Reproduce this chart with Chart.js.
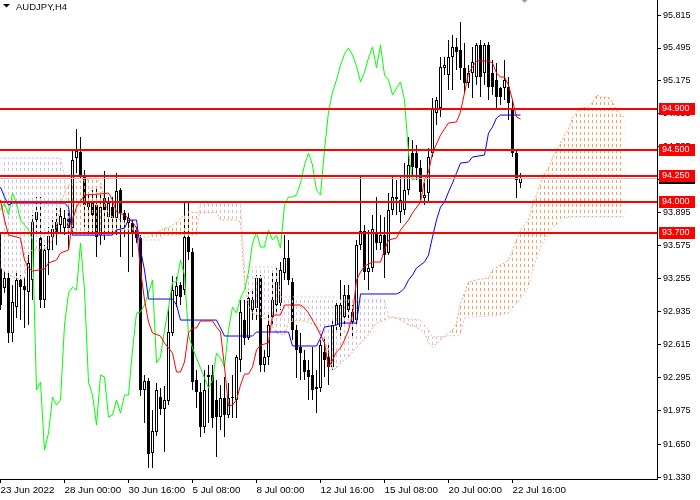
<!DOCTYPE html>
<html>
<head>
<meta charset="utf-8">
<script src="https://cdn.jsdelivr.net/npm/chart.js@4.4.1/dist/chart.umd.min.js"></script>
<style>
html,body{margin:0;padding:0;background:#fff;}
#wrap{width:700px;height:500px;}
</style>
</head>
<body>
<div id="wrap"><canvas id="chart" width="700" height="500"></canvas></div>
<script>
// AUDJPY H4 candles (bar 0 = left edge)
const openP = [93.359,93.165,93.262,92.728,92.980,93.243,93.184,93.126,93.243,93.825,
93.650,93.049,93.534,93.660,93.806,93.777,93.747,93.844,93.747,94.427,
94.485,94.262,93.951,93.990,93.971,93.679,94.039,93.854,93.951,93.844,
94.116,93.893,93.796,93.796,93.728,93.650,92.175,92.262,91.563,91.767,
92.106,91.990,92.068,92.728,93.087,93.194,93.145,93.660,93.514,92.272,
92.155,91.815,92.301,92.320,92.078,91.912,92.097,91.932,92.097,92.078,
92.466,92.854,92.680,92.951,92.971,93.262,92.417,92.495,92.883,93.000,
93.019,93.311,93.456,93.223,92.757,92.592,92.466,92.369,92.320,92.204,
92.194,92.544,92.495,92.398,92.806,92.786,92.883,93.097,92.835,92.854,
93.582,93.718,93.320,93.359,93.699,93.602,93.679,93.505,93.922,94.029,
93.903,93.922,94.116,94.476,94.476,94.330,94.039,94.087,94.476,94.864,
94.912,95.301,95.233,95.408,95.505,95.476,95.301,95.155,95.252,95.213,
95.524,95.252,95.524,95.252,95.184,95.107,95.107,95.116,94.912,94.476,
94.184];
const highP = [93.699,93.320,93.340,93.194,93.311,93.291,93.262,93.485,93.874,94.048,
94.048,93.582,93.757,93.825,93.942,93.942,93.922,93.922,94.505,94.709,
94.631,94.311,94.087,94.116,94.136,94.087,94.301,94.048,94.048,94.281,
94.136,93.922,93.893,93.825,93.757,93.679,92.320,92.291,91.980,92.243,
92.194,92.213,92.980,93.281,93.272,93.223,93.990,94.000,93.553,92.369,
92.243,92.369,92.417,92.417,92.272,92.223,92.301,92.243,92.320,92.514,
93.049,93.049,93.126,93.165,93.291,93.291,92.563,92.903,93.320,93.359,
93.417,93.679,93.631,93.262,92.806,92.728,92.563,92.466,92.592,92.369,
92.660,92.689,92.641,92.874,93.049,93.243,93.194,93.194,93.000,93.631,
94.243,93.777,93.728,93.874,94.048,93.874,93.854,94.087,94.262,94.213,
94.243,94.378,94.631,94.602,94.553,94.408,94.184,94.524,95.010,95.019,
95.408,95.408,95.573,95.621,95.592,95.747,95.544,95.330,95.505,95.544,
95.573,95.544,95.553,95.378,95.349,95.116,95.378,95.213,94.990,94.505,
94.281];
const lowP = [92.951,93.116,92.631,92.641,92.874,92.854,92.777,92.806,93.049,93.709,
92.971,92.971,93.291,93.534,93.582,93.709,93.679,93.534,93.709,94.281,
94.233,93.757,93.699,93.709,93.466,93.582,93.631,93.709,93.699,93.679,
93.466,93.660,93.320,93.466,93.602,92.116,91.854,91.417,91.417,91.728,
91.932,91.572,92.029,92.699,92.980,93.000,93.097,93.437,92.175,92.000,
91.718,91.757,91.854,91.806,91.524,91.786,91.718,91.903,91.903,91.903,
92.350,92.611,92.660,92.854,92.854,92.350,92.350,92.417,92.806,92.932,
92.951,93.243,93.194,92.660,92.291,92.272,92.272,92.078,92.078,91.951,
92.155,92.301,92.223,92.369,92.757,92.699,92.806,92.854,92.680,92.806,
93.534,93.243,93.145,93.320,93.534,93.534,93.262,93.485,93.874,93.874,
93.796,93.874,94.068,94.262,94.213,94.019,93.971,93.990,94.437,94.747,
94.825,95.233,95.087,95.087,95.281,95.184,95.058,95.107,95.010,95.136,
95.019,95.136,94.990,95.039,94.893,94.942,94.990,94.796,94.437,94.039,
94.136];
const closeP = [93.000,93.262,92.728,93.029,93.243,93.174,93.145,93.408,93.806,93.903,
93.049,93.534,93.670,93.738,93.709,93.864,93.844,93.747,94.408,94.495,
94.262,93.971,93.990,93.874,93.660,93.951,93.922,93.990,93.844,94.107,
93.893,93.825,93.844,93.709,93.650,92.175,92.262,91.553,91.777,92.175,
91.990,92.078,92.738,93.145,93.184,93.078,93.660,93.514,92.252,92.155,
91.815,92.175,92.320,91.903,91.912,92.097,91.932,92.097,92.106,92.495,
92.932,92.680,93.068,93.049,93.262,92.417,92.495,92.806,93.049,93.223,
93.340,93.456,93.243,92.757,92.563,92.534,92.350,92.301,92.175,92.184,
92.611,92.466,92.398,92.806,93.000,93.000,93.097,92.951,92.932,93.582,
93.718,93.320,93.359,93.738,93.602,93.679,93.485,93.922,94.048,94.048,
94.019,94.116,94.359,94.340,94.330,94.097,94.068,94.437,94.912,94.990,
95.311,95.330,95.408,95.505,95.456,95.301,95.155,95.252,95.359,95.524,
95.213,95.524,95.116,95.116,95.019,95.019,95.184,94.961,94.476,94.213,
94.233];

// ichimoku: tenkan (red) and kijun (blue), at the bars where they turn
const tenkanIdx = [0,1,2,5,6,7,8,11,12,14,15,17,18,19,21,25,27,28,29,31,33,34,35,36,37,38,40,41,42,43,44,45,46,47,48,49,50,53,54,55,56,57,58,59,60,61,62,63,64,65,67,68,70,71,75,76,77,79,80,81,82,83,84,85,86,87,88,89,90,91,92,93,95,96,97,99,100,102,103,105,106,107,108,110,112,114,115,116,117,119,122,123,124,125,126,127,128,129,130];
const tenkanVal = [94.019,93.825,93.679,93.650,93.437,93.359,93.330,93.349,93.408,93.437,93.505,93.534,93.825,93.951,94.068,94.078,94.087,94.019,93.903,93.874,93.806,93.747,93.340,93.049,92.835,92.728,92.699,92.631,92.583,92.534,92.350,92.350,92.447,92.728,92.777,92.777,92.845,92.845,92.786,92.738,92.398,92.019,92.029,92.078,92.223,92.330,92.330,92.398,92.563,92.611,92.631,92.903,92.903,93.000,93.000,92.971,92.922,92.786,92.709,92.631,92.398,92.466,92.544,92.583,92.660,92.757,92.903,93.243,93.320,93.378,93.398,93.417,93.417,93.534,93.631,93.650,93.728,93.825,93.893,94.000,94.213,94.291,94.476,94.650,94.767,94.777,94.874,95.058,95.252,95.369,95.369,95.349,95.252,95.213,95.213,95.136,94.990,94.825,94.806];
const kijunIdx = [0,1,2,3,16,17,18,28,29,31,32,34,35,36,37,43,44,45,54,55,56,63,64,72,73,79,80,81,84,85,89,90,99,100,101,102,103,104,106,107,108,109,110,111,112,113,114,115,117,118,121,122,123,124,125,130];
const kijunVal = [94.145,94.048,93.971,93.990,93.990,93.951,93.679,93.679,93.728,93.747,93.825,93.825,93.534,93.340,93.058,93.058,93.000,92.854,92.854,92.777,92.699,92.699,92.738,92.738,92.602,92.602,92.680,92.786,92.806,92.825,92.825,93.107,93.107,93.126,93.165,93.243,93.291,93.359,93.417,93.485,93.660,93.825,93.951,94.000,94.097,94.184,94.281,94.378,94.388,94.437,94.456,94.669,94.728,94.815,94.844,94.844];
// chikou (green), one value per bar from bar 0
const chikou = [93.922,93.990,93.874,94.087,93.990,93.825,93.777,93.728,93.631,92.175,
92.252,91.592,91.757,92.106,92.029,92.078,92.806,93.116,93.174,93.145,
93.602,93.145,92.252,92.126,91.835,92.320,92.301,91.912,91.932,92.078,
91.951,92.126,92.126,92.563,92.922,92.932,93.000,93.116,93.243,92.437,
92.495,92.757,92.971,93.223,93.223,93.437,93.291,92.709,92.583,92.485,
92.388,92.291,92.194,92.272,92.534,92.485,92.398,92.757,92.980,92.922,
93.068,93.145,93.320,93.602,93.709,93.563,93.563,93.728,93.631,93.679,
93.553,93.971,94.048,94.048,94.068,94.184,94.359,94.476,94.359,94.116,
94.068,94.505,94.874,95.068,95.184,95.330,95.437,95.495,95.427,95.320,
95.165,95.262,95.398,95.505,95.301,95.524,95.233,95.184,95.039,95.107,
95.165,94.990,94.476,94.213,94.233];
// senkou span A (sandy brown) and B (thistle), the cloud edges
const spanAIdx = [0,2,5,6,7,8,11,13,14,15,16,17,19,21,24,25,26,27,30,32,34,35,37,41,42,44,46,47,50,54,55,59,60,61,62,63,65,67,69,71,72,75,79,80,82,83,84,85,87,88,90,92,93,94,96,97,98,100,102,104,106,107,108,110,112,113,114,115,116,117,119,122,123,125,126,127,128,129,130,132,133,134,135,136,137,138,140,141,142,143,144,145,147,148,149,150,152,153,154,155,156];
const spanAVal = [93.359,93.291,93.243,93.262,93.505,93.534,93.534,93.631,93.757,93.971,94.087,94.165,94.194,94.213,94.233,94.184,94.019,93.874,93.825,93.777,93.728,93.660,93.660,93.747,93.747,93.806,93.874,93.903,93.893,93.903,93.825,93.825,93.806,93.213,93.000,92.922,92.883,92.854,92.728,92.709,92.835,92.854,92.806,92.728,92.563,92.369,92.388,92.437,92.495,92.544,92.631,92.709,92.777,92.825,92.854,92.874,92.883,92.854,92.806,92.786,92.728,92.631,92.592,92.660,92.728,92.757,92.825,93.019,93.116,93.223,93.243,93.262,93.340,93.388,93.408,93.437,93.534,93.631,93.728,93.825,93.971,94.068,94.184,94.281,94.330,94.427,94.573,94.650,94.699,94.825,94.864,94.912,94.922,94.971,95.039,95.019,95.019,94.971,94.893,94.844,94.825];
const spanBIdx = [0,15,16,17,28,29,34,35,40,41,49,50,60,61,69,70,84,85,96,97,100,105,107,108,115,116,117,123,125,127,128,129,130,131,132,133,135,137,138,140,141,142,156];
const spanBVal = [94.427,94.427,94.262,93.679,93.679,93.728,93.728,93.631,93.631,93.679,93.679,93.990,93.990,93.369,93.369,93.078,93.078,93.049,93.049,92.883,92.874,92.854,92.757,92.689,92.709,92.874,92.883,92.893,92.903,92.922,92.971,93.019,93.049,93.116,93.174,93.340,93.563,93.699,93.757,93.806,93.844,93.854,93.854];

// axes and drawn levels
const yTicks = [95.815,95.495,95.175,94.855,94.535,94.215,93.895,93.575,93.255,92.935,92.615,92.295,91.975,91.650,91.330];
const xTickIdx = [0,16,32,48,64,80,96,112,128];
const xTickLabels = ['23 Jun 2022','28 Jun 00:00','30 Jun 16:00','5 Jul 08:00','8 Jul 00:00','12 Jul 16:00','15 Jul 08:00','20 Jul 00:00','22 Jul 16:00'];
const levels = [94.900, 94.500, 94.250, 94.000, 93.700];

const FONT = '"Liberation Sans", Arial, sans-serif';
const canvas = document.getElementById('chart');
const ctx0 = canvas.getContext('2d');

// vertical dashed hatching like the mt4 cloud
function hatch(color) {
    const c = document.createElement('canvas');
    c.width = 4; c.height = 6;
    const g = c.getContext('2d');
    g.fillStyle = color;
    g.fillRect(0, 0, 1, 3);
    return ctx0.createPattern(c, 'repeat');
}

const pts = (xs, ys) => xs.map((x, k) => ({x: x, y: ys[k]}));

// lines, labels and title on top
const overlay = {
    id: 'overlay',
    afterDatasetsDraw(chart) {
        const {ctx, chartArea: a, scales: {y}} = chart;
        ctx.save();
        const yb = Math.round(y.getPixelForValue(closeP[closeP.length - 1])) + 0.5;
        ctx.strokeStyle = '#c0c0c0';
        ctx.lineWidth = 1;
        ctx.beginPath(); ctx.moveTo(a.left, yb); ctx.lineTo(a.right, yb); ctx.stroke();
        ctx.strokeStyle = '#ff0000';
        ctx.lineWidth = 2;
        levels.forEach(v => {
            const yy = Math.round(y.getPixelForValue(v));
            ctx.beginPath(); ctx.moveTo(a.left, yy); ctx.lineTo(a.right, yy); ctx.stroke();
        });
        ctx.restore();
    },
    afterDraw(chart) {
        const {ctx, chartArea: a, scales: {x, y}} = chart;
        ctx.save();
        // bid box, mostly hidden
        const yb = Math.round(y.getPixelForValue(closeP[closeP.length - 1]));
        ctx.fillStyle = '#000';
        ctx.fillRect(a.right + 2, yb - 5, 36, 11);
        ctx.font = '9px ' + FONT;
        ctx.textBaseline = 'middle';
        ctx.textAlign = 'left';
        levels.forEach(v => {
            const yy = Math.round(y.getPixelForValue(v));
            ctx.fillStyle = '#ff0000';
            ctx.fillRect(a.right + 2, yy - 6, 36, 12);
            ctx.fillStyle = '#fff';
            ctx.fillText(v.toFixed(3), a.right + 5, yy);
        });
        // title
        ctx.fillStyle = '#000';
        ctx.beginPath(); ctx.moveTo(3, 4); ctx.lineTo(10, 4); ctx.lineTo(6.5, 7.5); ctx.closePath(); ctx.fill();
        ctx.font = '9.5px ' + FONT;
        ctx.fillStyle = '#0a0a20';
        ctx.fillText('AUDJPY,H4', 16, 7);
        // chart shift marker
        const xs = x.getPixelForValue(131);
        ctx.fillStyle = '#a0a0a0';
        ctx.beginPath(); ctx.moveTo(xs - 3, 0); ctx.lineTo(xs + 3, 0); ctx.lineTo(xs, 3); ctx.closePath(); ctx.fill();
        ctx.restore();
    }
};

const chart = new Chart(canvas, {
    type: 'bar',
    data: {
        datasets: [
            {
                type: 'bar', label: 'wick', order: 10,
                data: openP.map((o, i) => ({x: i, y: [lowP[i], highP[i]]})),
                backgroundColor: '#000', borderWidth: 0,
                barThickness: 1, grouped: false, inflateAmount: 0
            },
            {
                type: 'bar', label: 'body', order: 9,
                data: openP.map((o, i) => ({x: i, y: [o, closeP[i]]})),
                backgroundColor: openP.map((o, i) => closeP[i] >= o ? '#fff' : '#000'),
                borderColor: '#000', borderWidth: 1, borderSkipped: false,
                barThickness: 3, grouped: false, minBarLength: 1, inflateAmount: 0
            },
            {
                type: 'line', label: 'span B', order: 6,
                data: pts(spanBIdx, spanBVal),
                borderColor: '#d8bfd8', borderWidth: 1, borderDash: [2, 2],
                pointRadius: 0, tension: 0, fill: false
            },
            {
                type: 'line', label: 'span A', order: 5,
                data: pts(spanAIdx, spanAVal),
                borderColor: '#f4a460', borderWidth: 1, borderDash: [2, 2],
                pointRadius: 0, tension: 0,
                fill: {target: '-1', above: hatch('#f4a460'), below: hatch('#d8bfd8')}
            },
            {
                type: 'line', label: 'chikou', order: 3,
                data: chikou.map((v, i) => ({x: i, y: v})),
                borderColor: '#00ff00', borderWidth: 1, pointRadius: 0, tension: 0, fill: false
            },
            {
                type: 'line', label: 'kijun', order: 2,
                data: pts(kijunIdx, kijunVal),
                borderColor: '#0000ff', borderWidth: 1, pointRadius: 0, tension: 0, fill: false
            },
            {
                type: 'line', label: 'tenkan', order: 1,
                data: pts(tenkanIdx, tenkanVal),
                borderColor: '#ff0000', borderWidth: 1, pointRadius: 0, tension: 0, fill: false
            }
        ]
    },
    options: {
        responsive: false,
        devicePixelRatio: 1,
        animation: false,
        events: [],
        layout: {padding: 0},
        plugins: {legend: {display: false}, tooltip: {enabled: false}},
        scales: {
            x: {
                type: 'linear', position: 'bottom', offset: false,
                min: -0.125, max: 164.125,
                afterBuildTicks: s => { s.ticks = xTickIdx.map(v => ({value: v})); },
                afterFit: s => { s.height = 21; s.paddingLeft = 0; s.paddingRight = 0; },
                grid: {drawOnChartArea: false, drawTicks: true, tickLength: 4, color: '#000', offset: false},
                border: {display: true, color: '#000'},
                ticks: {
                    align: 'start', autoSkip: false, maxRotation: 0, padding: 1,
                    color: '#000', font: {family: FONT, size: 9.8},
                    callback: v => xTickLabels[xTickIdx.indexOf(v)]
                }
            },
            y: {
                type: 'linear', position: 'right', beginAtZero: false,
                min: 91.311, max: 95.961,
                afterBuildTicks: s => { s.ticks = yTicks.map(v => ({value: v})); },
                afterFit: s => { s.width = 43; s.paddingTop = 0; s.paddingBottom = 0; },
                grid: {drawOnChartArea: false, drawTicks: true, tickLength: 4, color: '#000'},
                border: {display: true, color: '#000'},
                ticks: {
                    autoSkip: false, padding: 2, color: '#000',
                    font: {family: FONT, size: 9},
                    callback: v => v.toFixed(3)
                }
            }
        }
    },
    plugins: [overlay]
});
</script>
</body>
</html>
